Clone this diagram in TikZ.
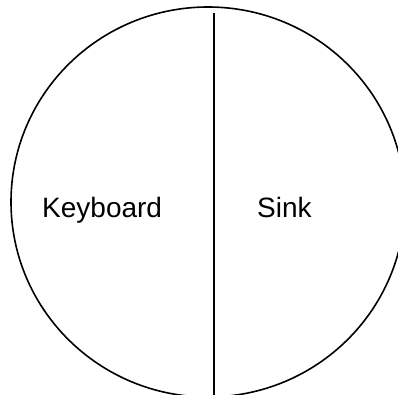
\documentclass[tikz,border=0pt]{standalone}
\usepackage{fontspec}
\setmainfont{Liberation Sans}
\begin{document}
\begin{tikzpicture}[x=1pt,y=1pt,
  outline/.style={draw=black,line width=1.6pt},
  label/.style={inner sep=0pt,anchor=base west,font=\fontsize{28}{34}\selectfont}]
\useasboundingbox (0,0) rectangle (398,-395);
\clip (0,0) rectangle (398,-395);
\draw[outline] (208,-202) ellipse [x radius=197, y radius=195];
\coordinate (top) at (214,-13);
\coordinate (bottom) at (214,-400);
\draw[outline] (top) -- (bottom);
\node[label] (keyboard) at (42,-217) {Keyboard};
\node[label] (sink) at (257,-217) {Sink};
\end{tikzpicture}
\end{document}
